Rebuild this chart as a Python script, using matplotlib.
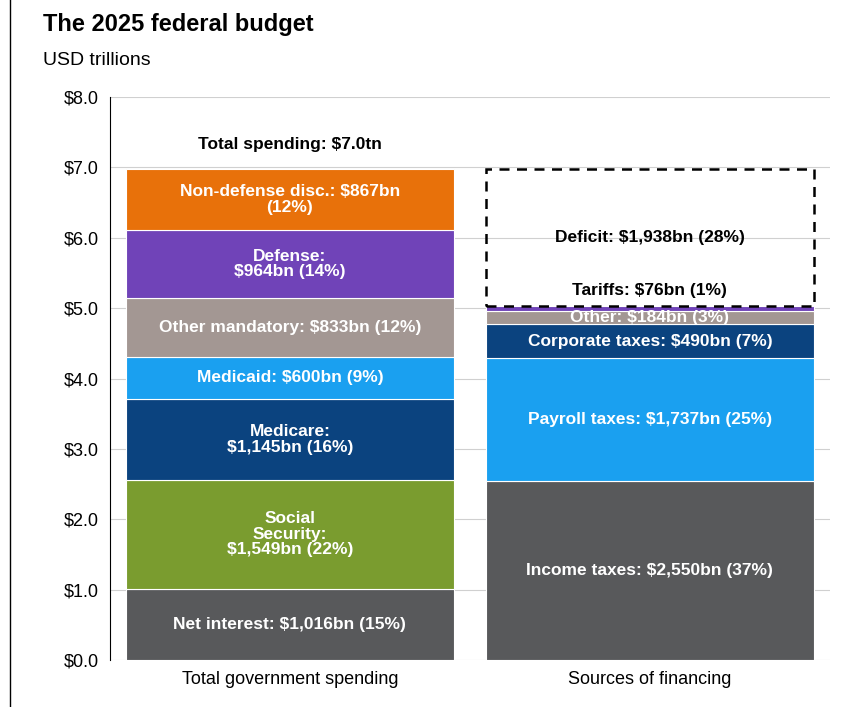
import matplotlib.pyplot as plt
from matplotlib.patches import Rectangle

plt.rcParams['font.family'] = ['Liberation Sans', 'DejaVu Sans']

categories = ["Total government spending", "Sources of financing"]

spend_vals = [1.016, 1.549, 1.145, 0.600, 0.833, 0.964, 0.867]
spend_labels = ["Net interest: $1,016bn (15%)", "Social\nSecurity:\n$1,549bn (22%)",
                "Medicare:\n$1,145bn (16%)", "Medicaid: $600bn (9%)",
                "Other mandatory: $833bn (12%)", "Defense:\n$964bn (14%)",
                "Non-defense disc.: $867bn\n(12%)"]
spend_colors = ["#58595b", "#7a9c2f", "#0b437f", "#1aa0f0", "#a39793", "#7043b8", "#e8710a"]

fin_vals = [2.550, 1.737, 0.490, 0.184, 0.076]
fin_labels = ["Income taxes: $2,550bn (37%)", "Payroll taxes: $1,737bn (25%)",
              "Corporate taxes: $490bn (7%)", "Other: $184bn (3%)", ""]
fin_colors = ["#58595b", "#1aa0f0", "#0b437f", "#a39793", "#7043b8"]
deficit = 1.938

fig = plt.figure(figsize=(8.52, 7.07), dpi=100)
ax = fig.add_axes([0.129, 0.066, 0.845, 0.797])
w = 0.91
fs = 12.5
bottom = 0
for v, lab, c in zip(spend_vals, spend_labels, spend_colors):
    ax.bar(0, v, w, bottom=bottom, color=c, edgecolor="white", linewidth=0.8)
    ax.text(0, bottom + v / 2, lab, ha="center", va="center", color="white",
            fontsize=fs, fontweight="bold", linespacing=1.05)
    bottom += v
ax.text(0, bottom + 0.35, "Total spending: $7.0tn", ha="center", va="center",
        fontsize=fs, fontweight="bold")

bottom = 0
for v, lab, c in zip(fin_vals, fin_labels, fin_colors):
    ax.bar(1, v, w, bottom=bottom, color=c, edgecolor="white", linewidth=0.8)
    if lab:
        ax.text(1, bottom + v / 2, lab, ha="center", va="center", color="white",
                fontsize=fs, fontweight="bold")
    bottom += v
ax.add_patch(Rectangle((1 - w / 2, bottom), w, deficit, fill=False,
                       linestyle=(0, (4, 3)), linewidth=1.8, edgecolor="black"))
ax.text(1, bottom + 0.22, "Tariffs: $76bn (1%)", ha="center", va="center",
        fontsize=fs, fontweight="bold")
ax.text(1, bottom + deficit * 0.5, "Deficit: $1,938bn (28%)", ha="center",
        va="center", fontsize=fs, fontweight="bold")

ax.set_xlim(-0.5, 1.5)
ax.set_ylim(0, 8)
ax.set_yticks(range(9))
ax.set_yticklabels([f"${i:.1f}" for i in range(9)], fontsize=13)
ax.set_xticks([0, 1])
ax.set_xticklabels(categories, fontsize=13)
ax.tick_params(length=0, pad=8)
ax.grid(axis="y", color="#d0d0d0", linewidth=0.8)
ax.set_axisbelow(True)
for s in ["top", "right", "bottom"]:
    ax.spines[s].set_visible(False)
ax.spines["left"].set_color("black")

fig.text(0.05, 0.965, "The 2025 federal budget", fontsize=17, fontweight="bold", va="center")
fig.text(0.05, 0.915, "USD trillions", fontsize=14, va="center")
fig.add_artist(plt.Line2D([0.012, 0.012], [0.0, 1.0], color="black", linewidth=1))
fig.savefig("out.png")
